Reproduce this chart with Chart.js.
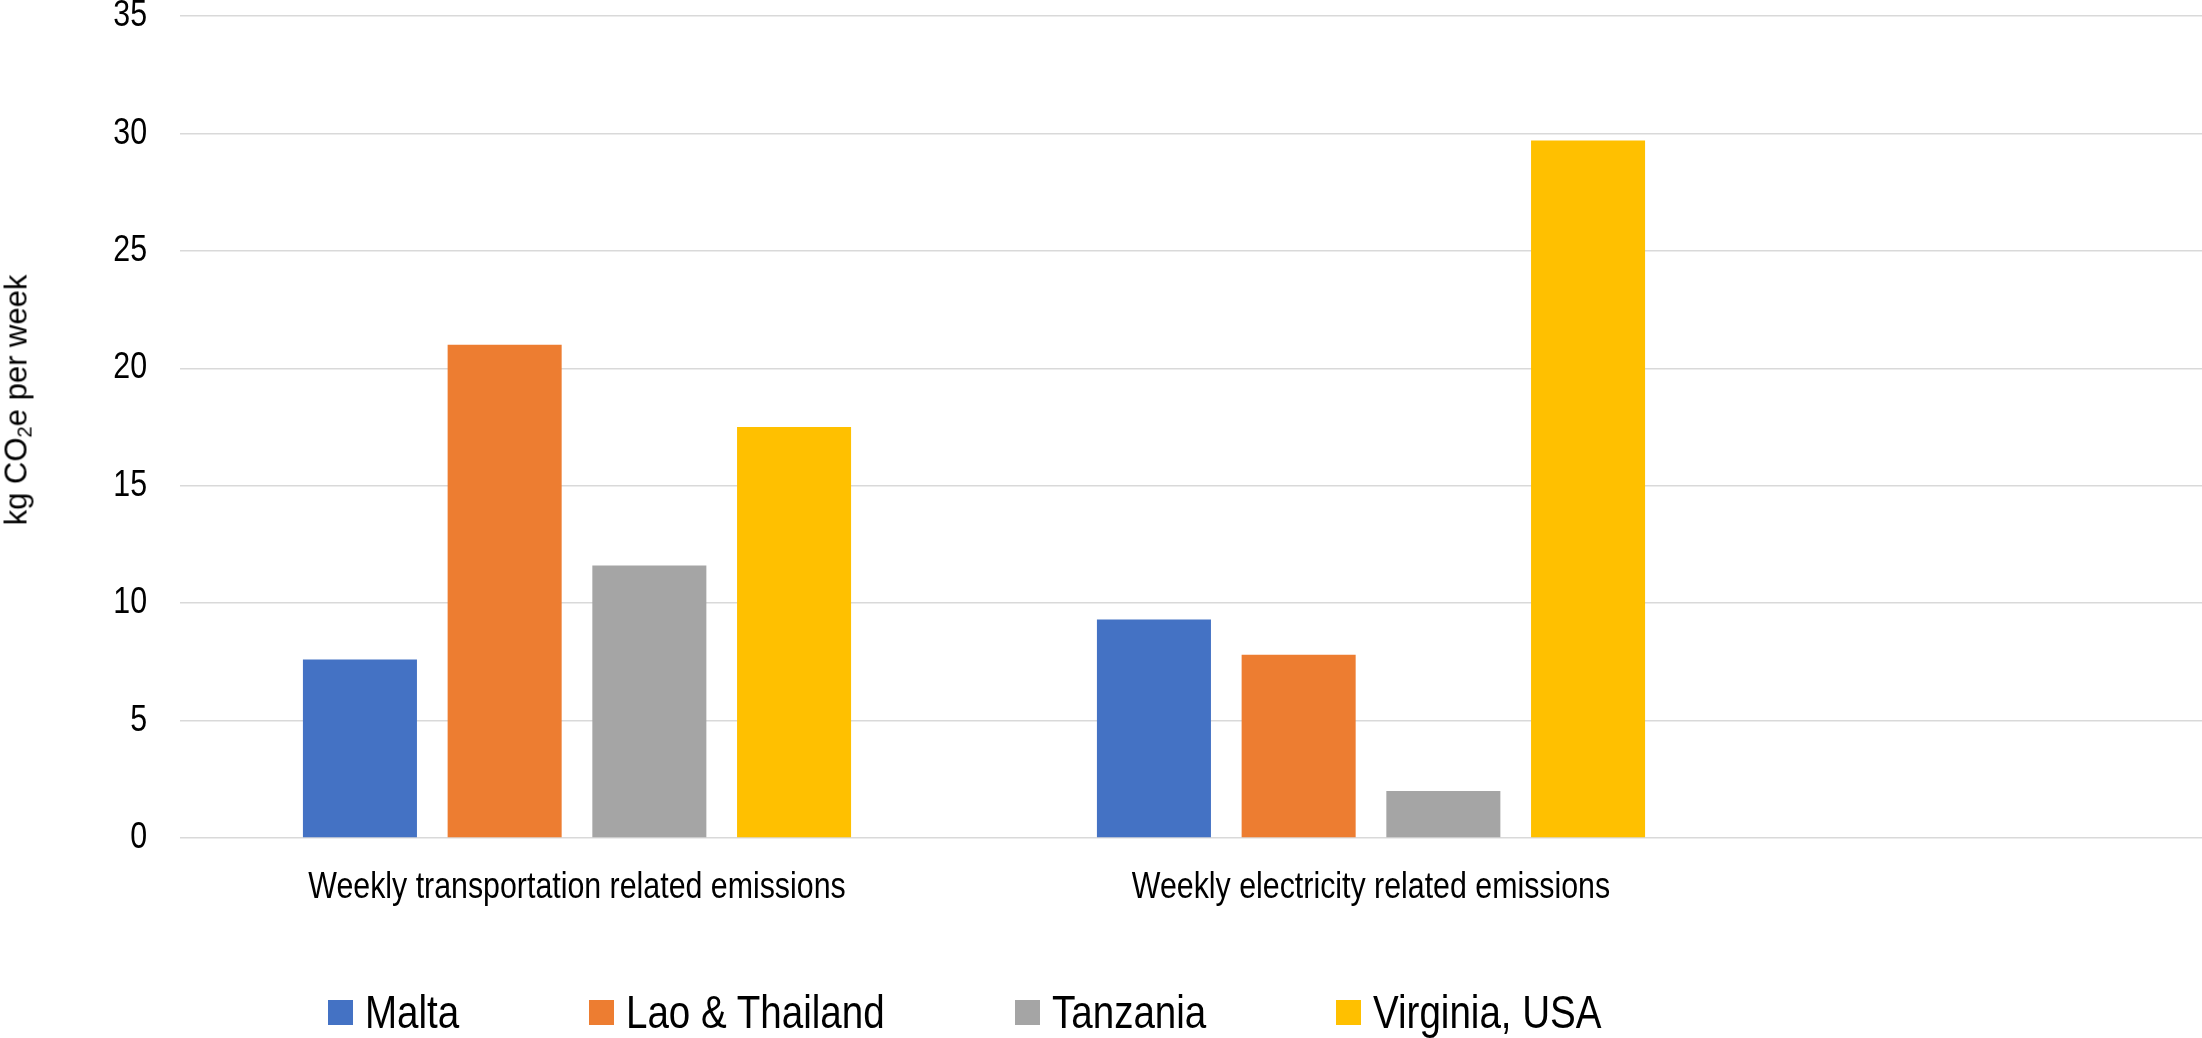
<!DOCTYPE html>
<html>
<head>
<meta charset="utf-8">
<script src="https://cdn.jsdelivr.net/npm/chart.js@4/dist/chart.umd.min.js"></script>
<style>
  html, body { margin: 0; padding: 0; background: #fff; overflow: hidden; }
  #wrap { position: relative; width: 2202px; height: 1038px; overflow: hidden; }
  #grafico { position: absolute; left: 0; top: 0; }
  #titoloY {
    position: absolute; left: 16px; top: 400px;
    transform: translate(-50%, -50%) rotate(-90deg);
    font-family: "Liberation Sans", Arial, sans-serif; font-size: 31px;
    white-space: nowrap; color: #000; line-height: 1;
  }
  #titoloY sub { font-size: 0.65em; vertical-align: -0.25em; line-height: 0; }
  #legenda {
    position: absolute; left: 328px; top: 988px; display: flex; gap: 130px;
    font-family: "Liberation Sans", Arial, sans-serif; font-size: 47px; line-height: 1;
  }
  .voce { display: flex; align-items: flex-start; white-space: nowrap; }
  .quadrato { width: 25px; height: 25px; margin-top: 12px; margin-right: 12px; flex: none; }
  .testo { display: inline-block; transform: scaleX(0.82); transform-origin: left top; }
</style>
</head>
<body>
<div id="wrap">
  <canvas id="grafico" width="2562" height="1038"></canvas>
  <div id="titoloY">kg CO<sub>2</sub>e per week</div>
  <div id="legenda"></div>
</div>
<script>
// dati
const categorie = ['Weekly transportation related emissions', 'Weekly electricity related emissions', ''];
const serieNomi = ['Malta', 'Lao & Thailand', 'Tanzania', 'Virginia, USA'];
const malta = [7.6, 9.3, null];
const laoThailandia = [21.0, 7.8, null];
const tanzania = [11.6, 2.0, null];
const virginia = [17.5, 29.7, null];
const colori = ['#4472C4', '#ED7D31', '#A5A5A5', '#FFC000'];
const yMax = 35;
const yPasso = 5;

const valori = [malta, laoThailandia, tanzania, virginia];
const fontAssi = { family: '"Liberation Sans", Arial, sans-serif', size: 37 };
const stretto = 0.82; // Arial Narrow ~ Arial ristretto in orizzontale

// testo stretto sul canvas (come Arial Narrow)
const testoStretto = {
    id: 'testoStretto',
    beforeDraw: function(chart) {
        let ctx = chart.ctx;
        if (ctx._fillOrig) return;
        ctx._fillOrig = ctx.fillText;
        ctx.fillText = function(t, x, y) {
            this.save();
            this.translate(x, y);
            this.scale(stretto, 1);
            this._fillOrig(t, 0, 0);
            this.restore();
        };
    }
};

let datasets = [];
for (let i = 0; i < serieNomi.length; i++) {
    datasets.push({
        label: serieNomi[i],
        data: valori[i],
        backgroundColor: colori[i],
        borderWidth: 0,
        categoryPercentage: 0.729,
        barPercentage: 0.788
    });
}

new Chart(document.getElementById('grafico'), {
    type: 'bar',
    data: { labels: categorie, datasets: datasets },
    plugins: [testoStretto],
    options: {
        responsive: false,
        animation: false,
        layout: { padding: { top: 16, left: 0, right: 0, bottom: 0 } },
        plugins: { legend: { display: false }, tooltip: { enabled: false } },
        scales: {
            x: {
                grid: { display: false, drawTicks: false },
                border: { display: false },
                ticks: { font: fontAssi, color: '#000', padding: 28, maxRotation: 0, autoSkip: false },
                afterFit: function(s) { s.height = 200; s.paddingLeft = 0; s.paddingRight = 0; }
            },
            y: {
                min: 0,
                max: yMax,
                ticks: { stepSize: yPasso, padding: 33, font: fontAssi, color: '#000' },
                grid: { color: '#d9d9d9', lineWidth: 1.5, drawTicks: false },
                border: { display: false },
                afterFit: function(s) { s.width = 180; s.paddingTop = 0; s.paddingBottom = 0; }
            }
        }
    }
});

// legenda in HTML
let legenda = document.getElementById('legenda');
for (let i = 0; i < serieNomi.length; i++) {
    let voce = document.createElement('div');
    voce.className = 'voce';
    let q = document.createElement('span');
    q.className = 'quadrato';
    q.style.background = colori[i];
    let t = document.createElement('span');
    t.className = 'testo';
    t.textContent = serieNomi[i];
    voce.appendChild(q);
    voce.appendChild(t);
    legenda.appendChild(voce);
    // compensa la larghezza persa con scaleX
    t.style.marginRight = (-(1 - stretto) * t.offsetWidth) + 'px';
}
</script>
</body>
</html>
